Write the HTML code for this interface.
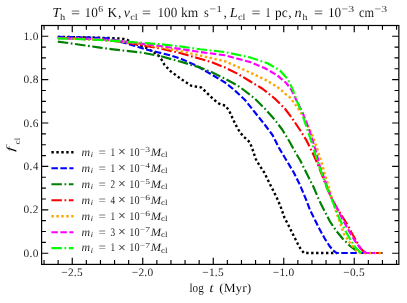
<!DOCTYPE html>
<html><head><meta charset="utf-8"><title>f_cl vs log t</title>
<style>html,body{margin:0;padding:0;background:#fff}svg{display:block}text{font-family:"Liberation Serif","DejaVu Serif",serif;fill:#000;stroke:#fff;stroke-width:0.08px;text-rendering:geometricPrecision}.i{font-style:italic}</style>
</head><body>
<svg width="407" height="303" viewBox="0 0 407 303">
<rect x="0" y="0" width="407" height="303" fill="#ffffff"/>
<defs><clipPath id="ax"><rect x="41.60" y="25.50" width="357.25" height="238.90"/></clipPath></defs>
<g clip-path="url(#ax)" fill="none" stroke-width="2.15" stroke-linejoin="round">
<polyline points="57.80,36.90 80.00,37.20 100.00,37.80 112.00,38.10 122.00,38.60 127.00,39.80 135.00,43.75 145.50,47.50 153.00,51.80 158.30,55.20 161.50,59.50 164.60,65.00 171.00,71.60 181.00,79.00 191.00,85.60 197.00,86.80 201.00,87.40 205.00,91.00 210.50,96.50 215.00,100.50 219.00,103.60 222.00,104.80 225.50,105.60 229.30,111.00 233.60,120.50 237.00,127.30 240.00,132.30 243.75,136.80 247.50,140.00 250.00,142.60 253.20,151.25 255.60,158.75 259.20,165.00 264.20,172.50 270.40,185.00 276.70,197.50 280.50,206.25 284.40,217.50 289.60,227.50 293.80,236.00 297.60,243.50 300.80,249.30 304.00,253.00 337.00,253.00" stroke="#000000" stroke-width="2.40" stroke-dasharray="2.4 2.55"/>
<polyline points="57.80,36.90 80.00,37.30 100.00,37.90 107.00,38.30 113.00,39.60 120.00,41.50 135.00,46.00 145.00,49.20 157.50,52.20 170.00,55.20 182.50,59.40 195.00,65.00 200.00,67.80 212.50,75.00 225.00,82.50 233.75,89.50 245.00,100.00 255.00,112.50 265.00,125.00 272.50,135.00 278.75,147.50 286.25,160.00 293.75,172.50 300.00,185.00 306.25,200.00 310.00,210.00 315.00,220.00 320.00,230.00 325.00,239.00 329.50,246.00 333.00,250.30 336.50,253.00 382.30,253.00" stroke="#0000ff" stroke-width="2.15" stroke-dasharray="6.5 2.5"/>
<polyline points="57.80,41.60 80.00,44.70 100.00,47.60 111.00,49.10 120.00,50.20 131.00,51.40 142.00,52.60 160.00,56.00 180.00,61.50 200.00,67.50 212.50,72.50 225.00,78.75 237.50,85.50 243.75,90.00 255.00,98.75 265.00,108.75 275.00,120.00 282.50,130.00 290.00,142.50 296.25,153.75 300.00,160.00 306.25,172.50 313.75,187.50 319.00,200.00 324.00,210.00 330.00,221.50 336.00,230.50 343.00,239.00 350.00,246.00 357.00,251.30 361.00,253.00 382.30,253.00" stroke="#008000" stroke-width="2.15" stroke-dasharray="10.5 2.6 1.7 2.6"/>
<polyline points="57.80,37.70 100.00,39.80 120.00,41.80 140.00,44.80 160.00,48.50 180.00,53.00 200.00,58.75 212.50,62.50 225.00,67.50 237.50,73.75 250.00,81.25 262.50,88.75 275.00,98.75 285.00,108.75 292.50,118.75 300.00,130.00 306.25,140.00 312.50,152.50 317.50,163.75 322.00,175.00 327.00,188.00 332.00,199.00 337.50,209.00 343.20,218.00 348.20,226.00 351.20,232.00 355.80,240.00 360.30,248.00 364.00,252.00 366.00,253.00 382.30,253.00" stroke="#ff0000" stroke-width="2.15" stroke-dasharray="10.5 2.6 1.7 2.6"/>
<polyline points="57.80,38.20 100.00,39.40 120.00,41.30 140.00,43.80 160.00,47.20 180.00,51.00 200.00,55.50 225.00,61.25 250.00,72.50 265.00,79.60 275.00,85.50 280.00,88.90 285.00,93.60 290.00,97.50 297.50,107.50 305.30,120.00 311.70,133.75 316.80,147.50 321.60,162.50 325.00,175.00 329.20,188.00 332.20,200.00 334.50,207.00 339.00,220.00 344.00,234.00 350.00,243.00 356.00,250.00 360.00,253.00 382.30,253.00" stroke="#ffa500" stroke-width="2.40" stroke-dasharray="2.4 2.55"/>
<polyline points="57.80,38.30 100.00,39.20 120.00,41.00 140.00,43.50 160.00,46.00 180.00,48.90 200.00,52.00 225.00,55.30 250.00,62.00 265.00,68.20 277.50,75.50 286.25,83.00 291.25,89.50 296.25,100.00 302.50,112.50 308.40,127.50 313.30,142.50 317.00,155.00 319.50,165.00 324.20,178.00 328.20,190.00 332.60,200.00 338.00,210.00 343.00,220.00 349.00,231.00 355.00,241.00 361.00,249.00 366.00,252.80 368.00,253.00 375.00,253.00" stroke="#ff00ff" stroke-width="2.15" stroke-dasharray="6.5 2.5"/>
<polyline points="57.80,38.40 100.00,39.90 120.00,41.40 140.00,42.60 160.00,44.20 180.00,46.40 200.00,49.20 225.00,52.10 250.00,57.40 267.50,63.20 280.00,70.50 287.50,79.00 292.50,89.00 297.50,102.50 302.50,115.00 307.50,130.00 312.50,145.00 316.25,157.50 318.75,165.00 323.00,177.00 327.50,189.00 332.00,200.00 336.00,210.00 340.00,220.00 345.00,230.00 350.00,239.00 355.00,247.00 360.00,252.10 362.00,253.00 364.00,253.00" stroke="#00ff00" stroke-width="2.15" stroke-dasharray="10.5 2.6 1.7 2.6"/>
</g>
<g stroke="#000" stroke-width="1.15" fill="none">
<path d="M44.05 264.40v-4.30 M44.05 25.50v4.30"/>
<path d="M58.15 264.40v-4.30 M58.15 25.50v4.30"/>
<path d="M72.25 264.40v-6.70 M72.25 25.50v6.70"/>
<path d="M86.35 264.40v-4.30 M86.35 25.50v4.30"/>
<path d="M100.45 264.40v-4.30 M100.45 25.50v4.30"/>
<path d="M114.55 264.40v-4.30 M114.55 25.50v4.30"/>
<path d="M128.65 264.40v-4.30 M128.65 25.50v4.30"/>
<path d="M142.75 264.40v-6.70 M142.75 25.50v6.70"/>
<path d="M156.85 264.40v-4.30 M156.85 25.50v4.30"/>
<path d="M170.95 264.40v-4.30 M170.95 25.50v4.30"/>
<path d="M185.05 264.40v-4.30 M185.05 25.50v4.30"/>
<path d="M199.15 264.40v-4.30 M199.15 25.50v4.30"/>
<path d="M213.25 264.40v-6.70 M213.25 25.50v6.70"/>
<path d="M227.35 264.40v-4.30 M227.35 25.50v4.30"/>
<path d="M241.45 264.40v-4.30 M241.45 25.50v4.30"/>
<path d="M255.55 264.40v-4.30 M255.55 25.50v4.30"/>
<path d="M269.65 264.40v-4.30 M269.65 25.50v4.30"/>
<path d="M283.75 264.40v-6.70 M283.75 25.50v6.70"/>
<path d="M297.85 264.40v-4.30 M297.85 25.50v4.30"/>
<path d="M311.95 264.40v-4.30 M311.95 25.50v4.30"/>
<path d="M326.05 264.40v-4.30 M326.05 25.50v4.30"/>
<path d="M340.15 264.40v-4.30 M340.15 25.50v4.30"/>
<path d="M354.25 264.40v-6.70 M354.25 25.50v6.70"/>
<path d="M368.35 264.40v-4.30 M368.35 25.50v4.30"/>
<path d="M382.45 264.40v-4.30 M382.45 25.50v4.30"/>
<path d="M396.55 264.40v-4.30 M396.55 25.50v4.30"/>
<path d="M41.60 253.20h6.70 M398.85 253.20h-6.70"/>
<path d="M41.60 242.35h4.30 M398.85 242.35h-4.30"/>
<path d="M41.60 231.50h4.30 M398.85 231.50h-4.30"/>
<path d="M41.60 220.65h4.30 M398.85 220.65h-4.30"/>
<path d="M41.60 209.80h6.70 M398.85 209.80h-6.70"/>
<path d="M41.60 198.95h4.30 M398.85 198.95h-4.30"/>
<path d="M41.60 188.10h4.30 M398.85 188.10h-4.30"/>
<path d="M41.60 177.25h4.30 M398.85 177.25h-4.30"/>
<path d="M41.60 166.40h6.70 M398.85 166.40h-6.70"/>
<path d="M41.60 155.55h4.30 M398.85 155.55h-4.30"/>
<path d="M41.60 144.70h4.30 M398.85 144.70h-4.30"/>
<path d="M41.60 133.85h4.30 M398.85 133.85h-4.30"/>
<path d="M41.60 123.00h6.70 M398.85 123.00h-6.70"/>
<path d="M41.60 112.15h4.30 M398.85 112.15h-4.30"/>
<path d="M41.60 101.30h4.30 M398.85 101.30h-4.30"/>
<path d="M41.60 90.45h4.30 M398.85 90.45h-4.30"/>
<path d="M41.60 79.60h6.70 M398.85 79.60h-6.70"/>
<path d="M41.60 68.75h4.30 M398.85 68.75h-4.30"/>
<path d="M41.60 57.90h4.30 M398.85 57.90h-4.30"/>
<path d="M41.60 47.05h4.30 M398.85 47.05h-4.30"/>
<path d="M41.60 36.20h6.70 M398.85 36.20h-6.70"/>
</g>
<rect x="41.60" y="25.50" width="357.25" height="238.90" fill="none" stroke="#000" stroke-width="1.2"/>
<g fill="none" stroke-width="2.15">
<path d="M51.4 152.30H73.5" stroke="#000000" stroke-width="2.40" stroke-dasharray="2.4 2.55"/>
<path d="M51.4 168.28H73.5" stroke="#0000ff" stroke-width="2.15" stroke-dasharray="6.5 2.5"/>
<path d="M51.4 184.26H73.5" stroke="#008000" stroke-width="2.15" stroke-dasharray="10.5 2.6 1.7 2.6"/>
<path d="M51.4 200.24H73.5" stroke="#ff0000" stroke-width="2.15" stroke-dasharray="10.5 2.6 1.7 2.6"/>
<path d="M51.4 216.22H73.5" stroke="#ffa500" stroke-width="2.40" stroke-dasharray="2.4 2.55"/>
<path d="M51.4 232.20H73.5" stroke="#ff00ff" stroke-width="2.15" stroke-dasharray="6.5 2.5"/>
<path d="M51.4 248.18H73.5" stroke="#00ff00" stroke-width="2.15" stroke-dasharray="10.5 2.6 1.7 2.6"/>
</g>
<g style="filter:grayscale(1)">
<g font-size="11.4" text-anchor="middle">
<text x="71.95" y="275.8" textLength="21.4" lengthAdjust="spacing">−2.5</text>
<text x="142.45" y="275.8" textLength="21.4" lengthAdjust="spacing">−2.0</text>
<text x="212.95" y="275.8" textLength="21.4" lengthAdjust="spacing">−1.5</text>
<text x="283.45" y="275.8" textLength="21.4" lengthAdjust="spacing">−1.0</text>
<text x="353.95" y="275.8" textLength="21.4" lengthAdjust="spacing">−0.5</text>
</g>
<g font-size="11.4" text-anchor="end">
<text x="38.4" y="256.80" textLength="15.0" lengthAdjust="spacing">0.0</text>
<text x="38.4" y="213.40" textLength="15.0" lengthAdjust="spacing">0.2</text>
<text x="38.4" y="170.00" textLength="15.0" lengthAdjust="spacing">0.4</text>
<text x="38.4" y="126.60" textLength="15.0" lengthAdjust="spacing">0.6</text>
<text x="38.4" y="83.20" textLength="15.0" lengthAdjust="spacing">0.8</text>
<text x="38.4" y="39.80" textLength="15.0" lengthAdjust="spacing">1.0</text>
</g>
<g font-size="12.8">
<text x="189.5" y="291.7" textLength="14.2" lengthAdjust="spacingAndGlyphs">log</text>
<text x="209.3" y="291.7" class="i" textLength="4.4" lengthAdjust="spacingAndGlyphs">t</text>
<text x="219.2" y="291.7" textLength="32.0" lengthAdjust="spacingAndGlyphs">(Myr)</text>
</g>
<text class="i" font-size="11.2" transform="translate(13.6,151.9) rotate(-90) scale(1.75,1)">f</text>
<text font-size="8.0" transform="translate(20.2,144.6) rotate(-90) scale(1.18,1)">cl</text>
<g font-size="13.8">
<text x="52.20" y="16.80" textLength="8.20" lengthAdjust="spacingAndGlyphs" class="i">T</text>
<text x="60.00" y="19.90" textLength="5.20" lengthAdjust="spacingAndGlyphs" font-size="9.20">h</text>
<text x="71.00" y="16.80" textLength="9.00" lengthAdjust="spacingAndGlyphs">=</text>
<text x="84.60" y="16.80" textLength="13.20" lengthAdjust="spacingAndGlyphs">10</text>
<text x="98.20" y="12.40" textLength="4.80" lengthAdjust="spacingAndGlyphs" font-size="9.20">6</text>
<text x="107.60" y="16.80" textLength="9.60" lengthAdjust="spacingAndGlyphs">K</text>
<text x="118.00" y="16.80">,</text>
<text x="123.80" y="16.80" textLength="6.20" lengthAdjust="spacingAndGlyphs" class="i">v</text>
<text x="130.20" y="19.90" textLength="7.60" lengthAdjust="spacingAndGlyphs" font-size="9.20">cl</text>
<text x="142.00" y="16.80" textLength="9.00" lengthAdjust="spacingAndGlyphs">=</text>
<text x="157.60" y="16.80" textLength="19.60" lengthAdjust="spacingAndGlyphs">100</text>
<text x="181.00" y="16.80" textLength="17.20" lengthAdjust="spacingAndGlyphs">km</text>
<text x="204.00" y="16.80" textLength="4.80" lengthAdjust="spacingAndGlyphs">s</text>
<text x="209.60" y="12.40" textLength="12.40" lengthAdjust="spacingAndGlyphs" font-size="9.20">−1</text>
<text x="223.40" y="16.80">,</text>
<text x="229.70" y="16.80" textLength="8.00" lengthAdjust="spacingAndGlyphs" class="i">L</text>
<text x="238.00" y="19.90" textLength="7.40" lengthAdjust="spacingAndGlyphs" font-size="9.20">cl</text>
<text x="251.40" y="16.80" textLength="9.00" lengthAdjust="spacingAndGlyphs">=</text>
<text x="265.30" y="16.80" textLength="5.50" lengthAdjust="spacingAndGlyphs">1</text>
<text x="275.00" y="16.80" textLength="12.60" lengthAdjust="spacingAndGlyphs">pc</text>
<text x="288.20" y="16.80">,</text>
<text x="294.60" y="16.80" textLength="7.20" lengthAdjust="spacingAndGlyphs" class="i">n</text>
<text x="302.20" y="19.90" textLength="5.20" lengthAdjust="spacingAndGlyphs" font-size="9.20">h</text>
<text x="314.00" y="16.80" textLength="9.00" lengthAdjust="spacingAndGlyphs">=</text>
<text x="328.00" y="16.80" textLength="13.20" lengthAdjust="spacingAndGlyphs">10</text>
<text x="341.60" y="12.40" textLength="12.60" lengthAdjust="spacingAndGlyphs" font-size="9.20">−3</text>
<text x="359.00" y="16.80" textLength="15.00" lengthAdjust="spacingAndGlyphs">cm</text>
<text x="374.60" y="12.40" textLength="12.60" lengthAdjust="spacingAndGlyphs" font-size="9.20">−3</text>
</g>
<g font-size="11.6">
<text x="81.50" y="155.60" textLength="8.60" lengthAdjust="spacingAndGlyphs" class="i">m</text>
<text x="90.40" y="157.40" textLength="2.60" lengthAdjust="spacingAndGlyphs" class="i" font-size="7.80">i</text>
<text x="98.50" y="155.60" textLength="7.40" lengthAdjust="spacingAndGlyphs">=</text>
<text x="110.60" y="155.60" textLength="4.60" lengthAdjust="spacingAndGlyphs">1</text>
<text x="118.10" y="156.10" textLength="7.80" lengthAdjust="spacingAndGlyphs" font-size="13.40">×</text>
<text x="129.30" y="155.60" textLength="10.20" lengthAdjust="spacingAndGlyphs">10</text>
<text x="139.80" y="151.70" textLength="10.20" lengthAdjust="spacingAndGlyphs" font-size="7.80">−3</text>
<text x="150.80" y="155.60" textLength="10.40" lengthAdjust="spacingAndGlyphs" class="i">M</text>
<text x="161.00" y="157.40" textLength="6.60" lengthAdjust="spacingAndGlyphs" font-size="7.80">cl</text>
<text x="81.50" y="171.58" textLength="8.60" lengthAdjust="spacingAndGlyphs" class="i">m</text>
<text x="90.40" y="173.38" textLength="2.60" lengthAdjust="spacingAndGlyphs" class="i" font-size="7.80">i</text>
<text x="98.50" y="171.58" textLength="7.40" lengthAdjust="spacingAndGlyphs">=</text>
<text x="110.60" y="171.58" textLength="4.60" lengthAdjust="spacingAndGlyphs">1</text>
<text x="118.10" y="172.08" textLength="7.80" lengthAdjust="spacingAndGlyphs" font-size="13.40">×</text>
<text x="129.30" y="171.58" textLength="10.20" lengthAdjust="spacingAndGlyphs">10</text>
<text x="139.80" y="167.68" textLength="10.20" lengthAdjust="spacingAndGlyphs" font-size="7.80">−4</text>
<text x="150.80" y="171.58" textLength="10.40" lengthAdjust="spacingAndGlyphs" class="i">M</text>
<text x="161.00" y="173.38" textLength="6.60" lengthAdjust="spacingAndGlyphs" font-size="7.80">cl</text>
<text x="81.50" y="187.56" textLength="8.60" lengthAdjust="spacingAndGlyphs" class="i">m</text>
<text x="90.40" y="189.36" textLength="2.60" lengthAdjust="spacingAndGlyphs" class="i" font-size="7.80">i</text>
<text x="98.50" y="187.56" textLength="7.40" lengthAdjust="spacingAndGlyphs">=</text>
<text x="110.60" y="187.56" textLength="4.60" lengthAdjust="spacingAndGlyphs">2</text>
<text x="118.10" y="188.06" textLength="7.80" lengthAdjust="spacingAndGlyphs" font-size="13.40">×</text>
<text x="129.30" y="187.56" textLength="10.20" lengthAdjust="spacingAndGlyphs">10</text>
<text x="139.80" y="183.66" textLength="10.20" lengthAdjust="spacingAndGlyphs" font-size="7.80">−5</text>
<text x="150.80" y="187.56" textLength="10.40" lengthAdjust="spacingAndGlyphs" class="i">M</text>
<text x="161.00" y="189.36" textLength="6.60" lengthAdjust="spacingAndGlyphs" font-size="7.80">cl</text>
<text x="81.50" y="203.54" textLength="8.60" lengthAdjust="spacingAndGlyphs" class="i">m</text>
<text x="90.40" y="205.34" textLength="2.60" lengthAdjust="spacingAndGlyphs" class="i" font-size="7.80">i</text>
<text x="98.50" y="203.54" textLength="7.40" lengthAdjust="spacingAndGlyphs">=</text>
<text x="110.60" y="203.54" textLength="4.60" lengthAdjust="spacingAndGlyphs">4</text>
<text x="118.10" y="204.04" textLength="7.80" lengthAdjust="spacingAndGlyphs" font-size="13.40">×</text>
<text x="129.30" y="203.54" textLength="10.20" lengthAdjust="spacingAndGlyphs">10</text>
<text x="139.80" y="199.64" textLength="10.20" lengthAdjust="spacingAndGlyphs" font-size="7.80">−6</text>
<text x="150.80" y="203.54" textLength="10.40" lengthAdjust="spacingAndGlyphs" class="i">M</text>
<text x="161.00" y="205.34" textLength="6.60" lengthAdjust="spacingAndGlyphs" font-size="7.80">cl</text>
<text x="81.50" y="219.52" textLength="8.60" lengthAdjust="spacingAndGlyphs" class="i">m</text>
<text x="90.40" y="221.32" textLength="2.60" lengthAdjust="spacingAndGlyphs" class="i" font-size="7.80">i</text>
<text x="98.50" y="219.52" textLength="7.40" lengthAdjust="spacingAndGlyphs">=</text>
<text x="110.60" y="219.52" textLength="4.60" lengthAdjust="spacingAndGlyphs">1</text>
<text x="118.10" y="220.02" textLength="7.80" lengthAdjust="spacingAndGlyphs" font-size="13.40">×</text>
<text x="129.30" y="219.52" textLength="10.20" lengthAdjust="spacingAndGlyphs">10</text>
<text x="139.80" y="215.62" textLength="10.20" lengthAdjust="spacingAndGlyphs" font-size="7.80">−6</text>
<text x="150.80" y="219.52" textLength="10.40" lengthAdjust="spacingAndGlyphs" class="i">M</text>
<text x="161.00" y="221.32" textLength="6.60" lengthAdjust="spacingAndGlyphs" font-size="7.80">cl</text>
<text x="81.50" y="235.50" textLength="8.60" lengthAdjust="spacingAndGlyphs" class="i">m</text>
<text x="90.40" y="237.30" textLength="2.60" lengthAdjust="spacingAndGlyphs" class="i" font-size="7.80">i</text>
<text x="98.50" y="235.50" textLength="7.40" lengthAdjust="spacingAndGlyphs">=</text>
<text x="110.60" y="235.50" textLength="4.60" lengthAdjust="spacingAndGlyphs">3</text>
<text x="118.10" y="236.00" textLength="7.80" lengthAdjust="spacingAndGlyphs" font-size="13.40">×</text>
<text x="129.30" y="235.50" textLength="10.20" lengthAdjust="spacingAndGlyphs">10</text>
<text x="139.80" y="231.60" textLength="10.20" lengthAdjust="spacingAndGlyphs" font-size="7.80">−7</text>
<text x="150.80" y="235.50" textLength="10.40" lengthAdjust="spacingAndGlyphs" class="i">M</text>
<text x="161.00" y="237.30" textLength="6.60" lengthAdjust="spacingAndGlyphs" font-size="7.80">cl</text>
<text x="81.50" y="251.48" textLength="8.60" lengthAdjust="spacingAndGlyphs" class="i">m</text>
<text x="90.40" y="253.28" textLength="2.60" lengthAdjust="spacingAndGlyphs" class="i" font-size="7.80">i</text>
<text x="98.50" y="251.48" textLength="7.40" lengthAdjust="spacingAndGlyphs">=</text>
<text x="110.60" y="251.48" textLength="4.60" lengthAdjust="spacingAndGlyphs">1</text>
<text x="118.10" y="251.98" textLength="7.80" lengthAdjust="spacingAndGlyphs" font-size="13.40">×</text>
<text x="129.30" y="251.48" textLength="10.20" lengthAdjust="spacingAndGlyphs">10</text>
<text x="139.80" y="247.58" textLength="10.20" lengthAdjust="spacingAndGlyphs" font-size="7.80">−7</text>
<text x="150.80" y="251.48" textLength="10.40" lengthAdjust="spacingAndGlyphs" class="i">M</text>
<text x="161.00" y="253.28" textLength="6.60" lengthAdjust="spacingAndGlyphs" font-size="7.80">cl</text>
</g>
</g>
</svg>
</body></html>
